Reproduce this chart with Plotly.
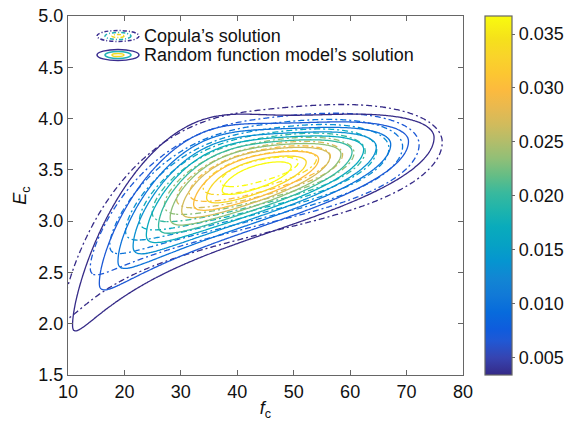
import numpy as np
import plotly.graph_objects as go

# ---------------- values ----------------
# f_c profile: [mode, spread left, spread right, shape exponent right]
# E_c ridge:   E = 10 / (a + b / f_c)
# E_c spread:  above ridge s0 + s1 / (1 + exp((f - fm)/w)), below ridge constant
rf_f_profile = [43.6, 15.0, 14.3, 2.0]
rf_E_curve = [2.211, 30.68]
rf_E_spread_up = [0.19, 0.25, 40.0, 6.0]
rf_E_spread_down = 0.265
rf_peak = 0.0367

cop_f_profile = [43.0, 15.6, 17.4, 2.4]
cop_E_curve = [2.368, 21.77]
cop_E_spread_up = [0.24, 0.09, 40.0, 6.0]
cop_E_spread_down = 0.285
cop_peak = 0.0362

# contour levels / colour range
level_start = 0.00336
level_step = 0.003028
level_end = 0.0338
c_range = [0.00336, 0.03667]
cbar_ticks = [0.005, 0.010, 0.015, 0.020, 0.025, 0.030, 0.035]
cbar_text = ["0.005", "0.010", "0.015", "0.020", "0.025", "0.030", "0.035"]
x_ticks = [10, 20, 30, 40, 50, 60, 70, 80]
y_ticks = [1.5, 2.0, 2.5, 3.0, 3.5, 4.0, 4.5, 5.0]
legend_names = ["Copula\u2019s solution", "Random function model\u2019s solution"]

# evaluation grid
fc = np.linspace(4, 86, 247)
Ec = np.linspace(1.2, 5.3, 275)
F, E = np.meshgrid(fc, Ec)


def joint_pdf(F, E, f_prof, curve, s_up_par, s_down, peak):
    mu, sl, sr, pr = f_prof
    left = F < mu
    u = np.where(left, (mu - F) / sl, (F - mu) / sr)
    expo = np.where(left, 2.0, pr)
    g = 10.0 / (curve[0] + curve[1] / F)
    s_up = s_up_par[0] + s_up_par[1] / (1 + np.exp((F - s_up_par[2]) / s_up_par[3]))
    s = np.where(E > g, s_up, s_down)
    v = (E - g) / s
    return peak * np.exp(-0.5 * u ** expo - 0.5 * v ** 2)


Z_rf = joint_pdf(F, E, rf_f_profile, rf_E_curve, rf_E_spread_up, rf_E_spread_down, rf_peak)
Z_cop = joint_pdf(F, E, cop_f_profile, cop_E_curve, cop_E_spread_up, cop_E_spread_down, cop_peak)

parula = [
    [0.0, "#352a87"], [0.048, "#3644b1"], [0.095, "#2058d4"], [0.127, "#0f5cdd"],
    [0.175, "#076bdc"], [0.222, "#1179d7"], [0.27, "#1286d3"], [0.317, "#0595d0"],
    [0.365, "#06a2c4"], [0.413, "#09abbc"], [0.46, "#1eb4ac"], [0.508, "#39b99d"],
    [0.556, "#65bd85"], [0.603, "#91bf77"], [0.651, "#b3bd6a"], [0.698, "#d1bb5c"],
    [0.746, "#e9b94f"], [0.794, "#fcba3e"], [0.841, "#fcc731"], [0.889, "#f9d42a"],
    [0.937, "#f5e11b"], [1.0, "#f9fb0e"],
]

contours = dict(start=level_start, end=level_end, size=level_step, coloring="lines")

W, H = 568, 422
# plot area in page pixels: x 68..463, y 16..375
L, R, T, B = 68, W - 463, 16, H - 375
pw, ph = W - L - R, H - T - B


def px(x):
    return (x - L) / pw


def py(y):
    return (H - B - y) / ph


fig = go.Figure()
fig.add_trace(go.Heatmap(
    x=fc, y=Ec, z=Z_rf, colorscale=parula, zmin=c_range[0], zmax=c_range[1],
    opacity=0, hoverinfo="skip", showscale=True,
    colorbar=dict(x=px(485), xanchor="left", y=0.5, yanchor="middle",
                  len=1.0, lenmode="fraction", thickness=27,
                  outlinecolor="#666", outlinewidth=1.2,
                  tickvals=cbar_ticks, ticktext=cbar_text,
                  ticks="outside", ticklen=3, tickcolor="#666",
                  tickfont=dict(size=18, color="#111"), xpad=0, ypad=0)))
fig.add_trace(go.Contour(
    x=fc, y=Ec, z=Z_cop, colorscale=parula, zmin=c_range[0], zmax=c_range[1],
    showscale=False, contours=contours,
    line=dict(width=1.3, dash="6px,3px,2px,3px", smoothing=1.0),
    showlegend=False, name=legend_names[0], hoverinfo="skip"))
fig.add_trace(go.Contour(
    x=fc, y=Ec, z=Z_rf, colorscale=parula, zmin=c_range[0], zmax=c_range[1],
    showscale=False, contours=contours,
    line=dict(width=1.3, smoothing=1.0),
    showlegend=False, name=legend_names[1], hoverinfo="skip"))

shapes = []
icon_cols = ["#3a2d8f", "#20b0b6", "#f2d81e"]
for cy, dash in [(36, "4px,2px,1px,2px"), (55, "solid")]:
    for (rx, ry), col in zip([(21, 5.5), (13, 3.5), (6, 1.6)], icon_cols):
        shapes.append(dict(type="circle", xref="paper", yref="paper",
                           x0=px(118 - rx), x1=px(118 + rx), y0=py(cy + ry), y1=py(cy - ry),
                           line=dict(color=col, width=1.5, dash=dash)))

annotations = []
for name, cy in zip(legend_names, [36, 55]):
    annotations.append(dict(text=name, xref="paper", yref="paper", x=px(142), y=py(cy),
                            xanchor="left", yanchor="middle", showarrow=False,
                            font=dict(size=18, color="#111")))

axis_common = dict(showline=True, linecolor="#666", linewidth=1.2, mirror="ticks",
                   ticks="inside", ticklen=5, tickcolor="#666", showgrid=False,
                   zeroline=False, tickfont=dict(size=18, color="#111"),
                   ticklabeloverflow="allow", automargin=False)

fig.update_layout(
    width=W, height=H, margin=dict(l=L, r=R, t=T, b=B, autoexpand=False),
    paper_bgcolor="white", plot_bgcolor="white",
    font=dict(family="Liberation Sans, Arial, sans-serif", size=18, color="#111"),
    xaxis=dict(range=[10, 80], tickvals=x_ticks, ticktext=[str(v) for v in x_ticks],
               title=dict(text="<i>f</i><sub>c</sub>", standoff=0, font=dict(size=18)),
               **axis_common),
    yaxis=dict(range=[1.5, 5.0], tickvals=y_ticks, ticktext=[f"{v:.1f}" for v in y_ticks],
               title=dict(text="<i>E</i><sub>c</sub>", standoff=6, font=dict(size=18)),
               **axis_common),
    shapes=shapes, annotations=annotations,
)

# the page body has a default 8px margin; remove it so the 568x422 figure fills the window
fig.write_html("out.html", config={"displayModeBar": False},
               post_script="document.body.style.margin='0';document.body.style.overflow='hidden';")
